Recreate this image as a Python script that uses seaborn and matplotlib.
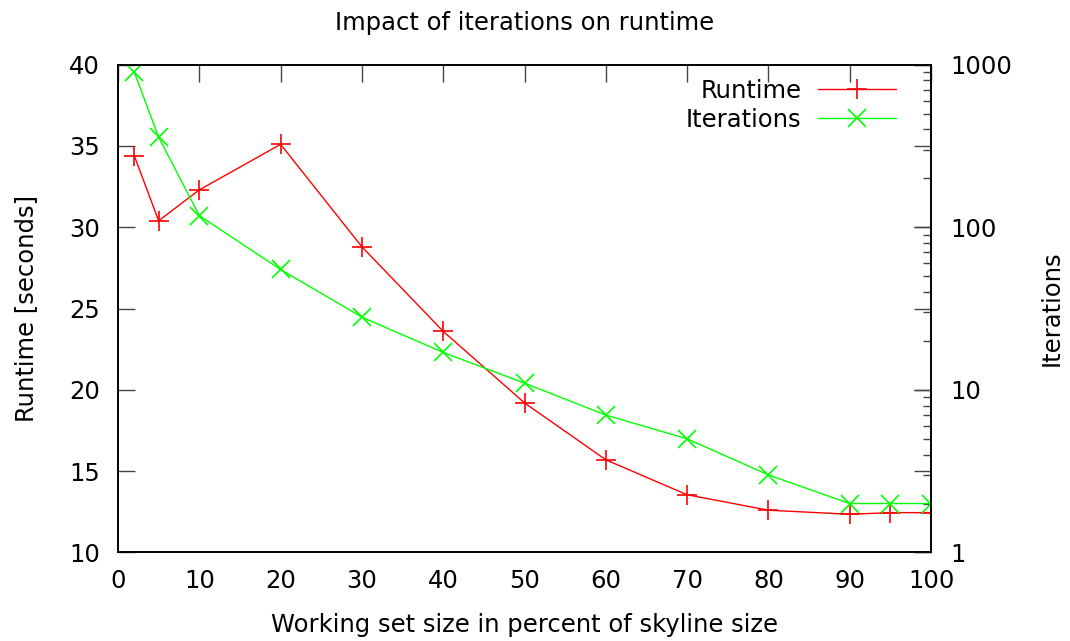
import numpy as np
import pandas as pd
import matplotlib
matplotlib.use("Agg")
import matplotlib.pyplot as plt
import seaborn as sns
from matplotlib.ticker import LogLocator, NullFormatter, FixedLocator

# Data
working_set = [2, 5, 10, 20, 30, 40, 50, 60, 70, 80, 90, 95, 100]
runtime = [34.4, 30.4, 32.3, 35.1, 28.8, 23.6, 19.2, 15.7, 13.55, 12.6, 12.35, 12.45, 12.45]
iterations = [900, 358, 118, 55, 28, 17, 11, 7, 5, 3, 2, 2, 2]

df = pd.DataFrame({"size": working_set, "runtime": runtime, "iterations": iterations})

sns.set_style("white")
plt.rcParams['font.family'] = ['DejaVu Sans']
plt.rcParams['font.size'] = 17.5
plt.rcParams['text.color'] = 'black'
plt.rcParams['axes.labelcolor'] = 'black'
plt.rcParams['xtick.color'] = 'black'
plt.rcParams['ytick.color'] = 'black'

fig = plt.figure(figsize=(10.70, 6.41), dpi=100)
ax = fig.add_axes([0.1103, 0.1381, 0.7598, 0.761])
ax2 = ax.twinx()

# Runtime on the left axis
sns.lineplot(data=df, x="size", y="runtime", ax=ax, color="#ff0000", linewidth=1,
             marker="+", markersize=15, markeredgewidth=1.2, markeredgecolor="#ff0000",
             label="Runtime", legend=False)
# Iterations on the right (log) axis
sns.lineplot(data=df, x="size", y="iterations", ax=ax2, color="#00ff00", linewidth=1,
             marker="x", markersize=13, markeredgewidth=1.2, markeredgecolor="#00ff00",
             label="Iterations", legend=False)

ax.set_xlim(0, 100)
ax.set_ylim(10, 40)
ax.set_xticks(range(0, 101, 10))
ax.set_yticks(range(10, 41, 5))

ax2.set_yscale("log")
ax2.set_ylim(1, 1000)
ax2.yaxis.set_major_locator(FixedLocator([1, 10, 100, 1000]))
ax2.set_yticklabels(["1", "10", "100", "1000"])
ax2.yaxis.set_minor_locator(LogLocator(base=10, subs=np.arange(2, 10)))
ax2.yaxis.set_minor_formatter(NullFormatter())

# gnuplot-like inward ticks
ax.tick_params(axis="both", which="major", direction="in", length=12, width=1,
               color="#444444", labelsize=17.5, labelcolor="black", top=True, right=True)
ax.tick_params(axis="y", pad=13)
ax.tick_params(axis="x", pad=12)
ax2.tick_params(axis="y", which="major", direction="in", length=12, width=1,
                color="#444444", labelsize=17.5, labelcolor="black", pad=14, left=False)
ax2.tick_params(axis="y", which="minor", direction="in", length=6, width=1,
                color="#444444", left=False)

for a in (ax, ax2):
    for s in a.spines.values():
        s.set_linewidth(1.2)
        s.set_color("black")

ax.set_xlabel("Working set size in percent of skyline size", fontsize=17.5, labelpad=14)
ax.set_ylabel("Runtime [seconds]", fontsize=17.5, labelpad=22)
ax2.set_ylabel("Iterations", fontsize=17.5, labelpad=20)
ax.set_title("Impact of iterations on runtime", fontsize=17.5, pad=25)

# combined legend, text left of the sample
h1, l1 = ax.get_legend_handles_labels()
h2, l2 = ax2.get_legend_handles_labels()
ax2.legend(h1 + h2, l1 + l2, loc="upper right", bbox_to_anchor=(0.978, 1.006),
           frameon=False, markerfirst=False, handlelength=3.2, fontsize=17.5,
           borderaxespad=0.3, labelspacing=0.2, handletextpad=0.7)

fig.savefig("out.png", dpi=100)
